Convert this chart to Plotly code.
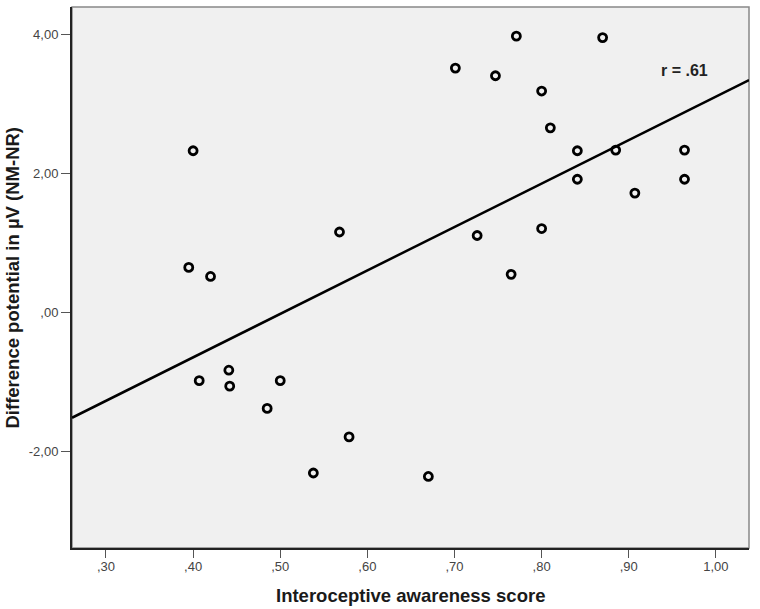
import numpy as np
import plotly.graph_objects as go

# interoceptive awareness score vs difference potential (NM-NR)
awareness = [0.400, 0.395, 0.420, 0.568,
             0.771, 0.870, 0.701, 0.747, 0.800, 0.810, 0.841, 0.885, 0.964,
             0.841, 0.964, 0.907, 0.726, 0.800, 0.765,
             0.407, 0.441, 0.442, 0.500, 0.485, 0.579, 0.538, 0.670]
diff_potential = [2.33, 0.65, 0.52, 1.16,
                  3.98, 3.96, 3.52, 3.41, 3.19, 2.66, 2.33, 2.34, 2.34,
                  1.92, 1.92, 1.72, 1.11, 1.21, 0.55,
                  -0.98, -0.83, -1.06, -0.98, -1.38, -1.79, -2.31, -2.36]

x_ticks = [0.3, 0.4, 0.5, 0.6, 0.7, 0.8, 0.9, 1.0]
x_ticktext = [',30', ',40', ',50', ',60', ',70', ',80', ',90', '1,00']
y_ticks = [-2, 0, 2, 4]
y_ticktext = ['-2,00', ',00', '2,00', '4,00']

x_range = [0.261, 1.038]
y_range = [-3.39, 4.40]

# least squares fit line across the full x range
slope, intercept = np.polyfit(awareness, diff_potential, 1)
fit_x = np.array(x_range)
fit_y = slope * fit_x + intercept
r = np.corrcoef(awareness, diff_potential)[0, 1]
print('slope', slope, 'intercept', intercept, 'r', r)

fig = go.Figure()
fig.add_trace(go.Scatter(x=fit_x, y=fit_y, mode='lines',
                         line=dict(color='black', width=2.5),
                         hoverinfo='skip', showlegend=False))
fig.add_trace(go.Scatter(x=awareness, y=diff_potential, mode='markers',
                         marker=dict(symbol='circle-open', size=8, color='black',
                                     line=dict(width=2.8, color='black')),
                         showlegend=False))

fig.add_annotation(x=0.9636, y=3.48, text='<b>r = .61</b>', showarrow=False,
                   font=dict(size=16, color='#222222'))

# axis titles as annotations so the plot area keeps its place
fig.add_annotation(xref='paper', yref='paper', x=0.5, y=0, yshift=-47,
                   xanchor='center', yanchor='middle',
                   text='<b>Interoceptive awareness score</b>', showarrow=False,
                   font=dict(size=18.5, color='#1a1a1a'))
fig.add_annotation(xref='paper', yref='paper', x=0, y=0.5, xshift=-60,
                   xanchor='center', yanchor='middle',
                   text='<b>Difference potential in µV (NM-NR)</b>', showarrow=False,
                   textangle=-90, font=dict(size=18.5, color='#1a1a1a'))

# grey frame on top/right
fig.add_shape(type='rect', xref='paper', yref='paper', x0=0, y0=0, x1=1, y1=1,
              line=dict(color='#888888', width=1.5), layer='below')

fig.update_xaxes(range=x_range, tickvals=x_ticks, ticktext=x_ticktext,
                 showgrid=False, zeroline=False, automargin=False,
                 showline=True, linecolor='#222222', linewidth=2,
                 ticks='outside', ticklen=8, tickcolor='#555555',
                 ticklabelstandoff=-3,
                 tickfont=dict(size=13, color='#444444'))
fig.update_yaxes(range=y_range, tickvals=y_ticks, ticktext=y_ticktext,
                 showgrid=False, zeroline=False, automargin=False,
                 showline=True, linecolor='#222222', linewidth=2,
                 ticks='outside', ticklen=9, tickcolor='#555555',
                 tickfont=dict(size=13, color='#444444'))

fig.update_layout(width=760, height=609,
                  margin=dict(l=72, r=11, t=7, b=61),
                  plot_bgcolor='#f0f0f0', paper_bgcolor='white',
                  font=dict(family='Liberation Sans, Arial, sans-serif'))

fig.write_html('out.html', config={'displayModeBar': False},
               post_script="document.body.style.margin='0';")
